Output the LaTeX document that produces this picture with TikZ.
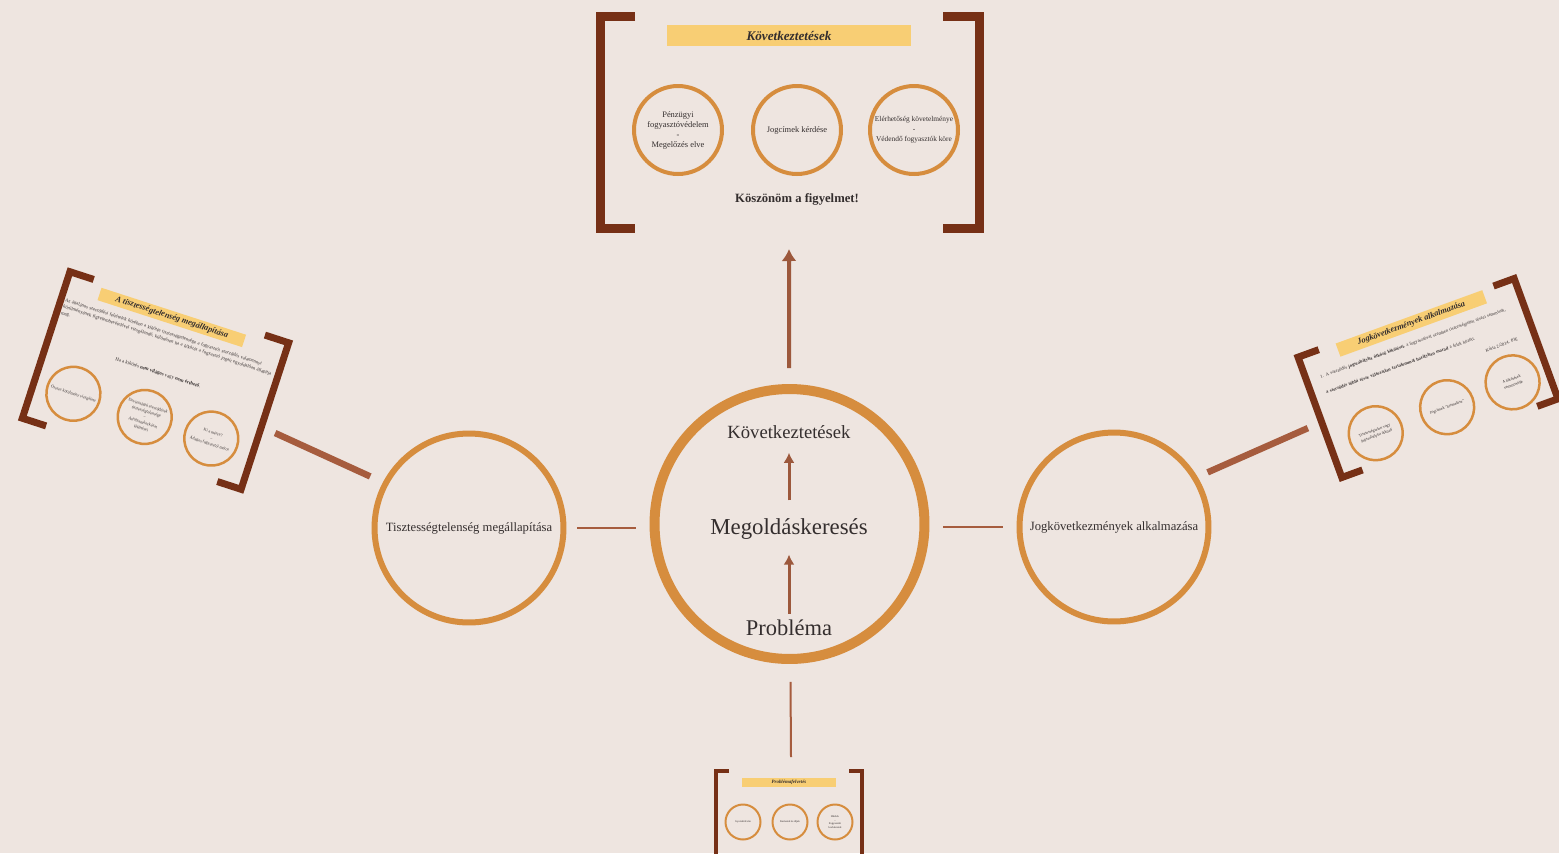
\documentclass[tikz,border=0pt]{standalone}
\usepackage{fontspec}
\setmainfont{Liberation Serif}
\usetikzlibrary{arrows.meta}
\definecolor{bgcol}{RGB}{238,229,224}
\definecolor{ringorange}{RGB}{214,141,62}
\definecolor{arrowbrown}{RGB}{156,88,60}
\definecolor{linkbrown}{RGB}{166,92,62}
\definecolor{brackbrown}{RGB}{118,48,22}
\definecolor{bannergold}{RGB}{248,206,116}
\definecolor{inkgray}{RGB}{52,46,46}
\tikzset{
  hubring/.style={circle, draw=ringorange, line width=0.2cm, minimum size=5.4cm, inner sep=0pt},
  sidering/.style={circle, draw=ringorange, line width=0.12cm, minimum size=3.78cm, inner sep=0pt, align=center, text=inkgray, font=\fontsize{7.2}{9}\selectfont},
  slidering/.style={circle, draw=ringorange, line width=0.08cm, minimum size=1.76cm, inner sep=0pt, align=center, text=inkgray, font=\fontsize{4.8}{5.7}\selectfont},
  tiltring/.style={circle, draw=ringorange, line width=0.05cm, minimum size=1.08cm, inner sep=0pt, align=center, text=inkgray, font=\fontsize{2.3}{3.3}\selectfont},
  miniring/.style={circle, draw=ringorange, line width=0.04cm, minimum size=0.7cm, inner sep=0pt, align=center, text=inkgray, font=\fontsize{1.6}{2.2}\selectfont},
  banner/.style={fill=bannergold, inner sep=0pt, text=inkgray},
  bracket/.style={draw=brackbrown, line join=miter},
  fwd/.style={->, draw=arrowbrown, >=Latex},
  link/.style={draw=linkbrown, line width=0.05cm},
  spoke/.style={draw=linkbrown, line width=0.13cm},
  label/.style={text=inkgray},
}
\begin{document}
\begin{tikzpicture}[x=0.02cm, y=-0.02cm]
  \path[use as bounding box, fill=bgcol] (0,0) rectangle (1559,853);

  % hub
  \node[hubring] (hub) at (789.5,524) {};
  \node[label, font=\fontsize{10.6}{12}\selectfont] (concl) at (789,432) {Következtetések};
  \node[label, font=\fontsize{13}{15}\selectfont] (solve) at (789,529) {Megoldáskeresés};
  \node[label, font=\fontsize{12.8}{15}\selectfont] (prob) at (789,628) {Probléma};
  \draw[fwd, line width=0.06cm, >={Latex[length=0.2cm, width=0.22cm]}, shorten >=0.18cm] (prob) -- (solve);
  \draw[fwd, line width=0.06cm, >={Latex[length=0.2cm, width=0.22cm]}, shorten <=0.24cm, shorten >=0.16cm] (solve) -- (concl);

  % side circles
  \node[sidering] (lring) at (469,528) {Tisztességtelenség megállapítása};
  \node[sidering] (rring) at (1114,527) {Jogkövetkezmények alkalmazása};
  \draw[link, shorten <=0.22cm, shorten >=0.28cm] (lring.east) -- (lring.east -| hub.west);
  \draw[link, shorten <=0.28cm, shorten >=0.28cm] (rring.west -| hub.east) -- (rring.west);

  % Következtetések
  \draw[bracket, line width=0.18cm] (635,16) -- (600,16) -- (600,228.5) -- (635,228.5);
  \draw[bracket, line width=0.18cm] (943,16) -- (979,16) -- (979,228.5) -- (943,228.5);
  \node[banner, minimum width=4.88cm, minimum height=0.42cm, font=\fontsize{7.5}{8}\selectfont\bfseries\itshape] (ttitle) at (789,35.5) {Következtetések};
  \node[slidering] (tc1) at (678,130) {Pénzügyi\\fogyasztóvédelem\\-\\Megelőzés elve};
  \node[slidering] (tc2) at (797,130) {Jogcímek kérdése};
  \node[slidering, font=\fontsize{4.2}{5.7}\selectfont] (tc3) at (914,130) {Elérhetőség követelménye\\-\\Védendő fogyasztók köre};
  \node[label, font=\fontsize{7.2}{8}\selectfont\bfseries] (thanks) at (797,199) {Köszönöm a figyelmet!};
  \coordinate (ttop) at (789,249);
  \draw[fwd, line width=0.08cm, >={Latex[length=0.24cm, width=0.3cm]}, shorten <=0.32cm] (hub) -- (ttop);

  % A tisztességtelenség megállapítása
  \begin{scope}[shift={(155.5,380.5)}, rotate=-18, transform shape]
    \draw[bracket, line width=0.14cm] (-90,-77) -- (-115,-77) -- (-115,77) -- (-90,77);
    \draw[bracket, line width=0.14cm] (90,-77) -- (115,-77) -- (115,77) -- (90,77);
    \node[banner, minimum width=3.04cm, minimum height=0.26cm, font=\fontsize{4.8}{5}\selectfont\bfseries\itshape] (ltitle) at (-4,-65) {A tisztességtelenség megállapítása};
    \node[label, anchor=north west, text width=4.46cm, inner sep=0pt, font=\fontsize{2.7}{3.8}\selectfont] (ltext) at (-111,-51) {Az általános szerződési feltételek körében a kikötés tisztességtelensége a fogyasztói szerződés valamennyi körülményének figyelembevételével vizsgálandó, különösen ha a kikötés a fogyasztó jogait egyoldalúan állapítja meg.};
    \node[label, font=\fontsize{2.8}{3.5}\selectfont] (lcrit) at (0,-8) {Ha a kikötés \textbf{nem világos} vagy \textbf{nem érthető}.};
    \node[tiltring] (lc1) at (-74,38) {Összes körülmény vizsgálata};
    \node[tiltring] (lc2) at (1,38) {Devizaalapú szerződések\\tisztességtelensége\\–\\Árfolyamkockázat\\kikötései};
    \node[tiltring] (lc3) at (71,38) {Ki a mérce?\\–\\Átlagos fogyasztói mérce};
    \coordinate (lspoke) at (130,13);
  \end{scope}
  \draw[spoke, shorten <=0.28cm] (lring.152) -- (lspoke);

  % Jogkövetkezmények alkalmazása
  \begin{scope}[shift={(1428,378)}, rotate=20, transform shape]
    \draw[bracket, line width=0.14cm] (-93,-64) -- (-115,-64) -- (-115,64) -- (-93,64);
    \draw[bracket, line width=0.14cm] (93,-64) -- (115,-64) -- (115,64) -- (93,64);
    \node[banner, minimum width=3.12cm, minimum height=0.28cm, font=\fontsize{4.8}{5}\selectfont\bfseries\itshape] (rtitle) at (3,-57) {Jogkövetkezmények alkalmazása};
    \node[label, anchor=north west, text width=4cm, inner sep=0pt, font=\fontsize{2.6}{9.5}\selectfont] (rtext) at (-101,-40) {1. A szerződés \textbf{jogszabályba ütköző kikötései}, a fogyasztóval szemben tisztességtelen részei semmisek, \textbf{a szerződés többi része változatlan tartalommal hatályban marad} a felek között.};
    \node[label, anchor=east, inner sep=0pt, font=\fontsize{2.6}{3}\selectfont] (rnote) at (98,-6) {Kúria 2/2014. PJE};
    \node[tiltring] (rc1) at (-68,34) {Tisztességtelen vagy\\jogszabályba ütköző};
    \node[tiltring] (rc2) at (8,34) {Jogcímek “kiemelése”};
    \node[tiltring] (rc3) at (78,33) {A kikötések\\semmissége};
    \coordinate (rspoke) at (-130,6);
  \end{scope}
  \draw[spoke, shorten <=0.22cm] (rring.31.5) -- (rspoke);

  % Problémafelvetés
  \draw[bracket, line width=0.08cm] (729,771) -- (716,771) -- (716,860);
  \draw[bracket, line width=0.08cm] (849,771) -- (862,771) -- (862,860);
  \node[banner, minimum width=1.88cm, minimum height=0.18cm, font=\fontsize{2.8}{3}\selectfont\bfseries\itshape] (btitle) at (789,782) {Problémafelvetés};
  \node[miniring] (bc1) at (743,822) {Gyorskölcsön};
  \node[miniring] (bc2) at (790,822) {Kamatok és díjak};
  \node[miniring] (bc3) at (835,822) {Hitelek\\–\\Fogyasztói\\kockázatok};
  \coordinate (btop) at (791,757);
  \draw[link, line width=0.04cm, shorten <=0.36cm] (hub) -- (btop);
\end{tikzpicture}
\end{document}
